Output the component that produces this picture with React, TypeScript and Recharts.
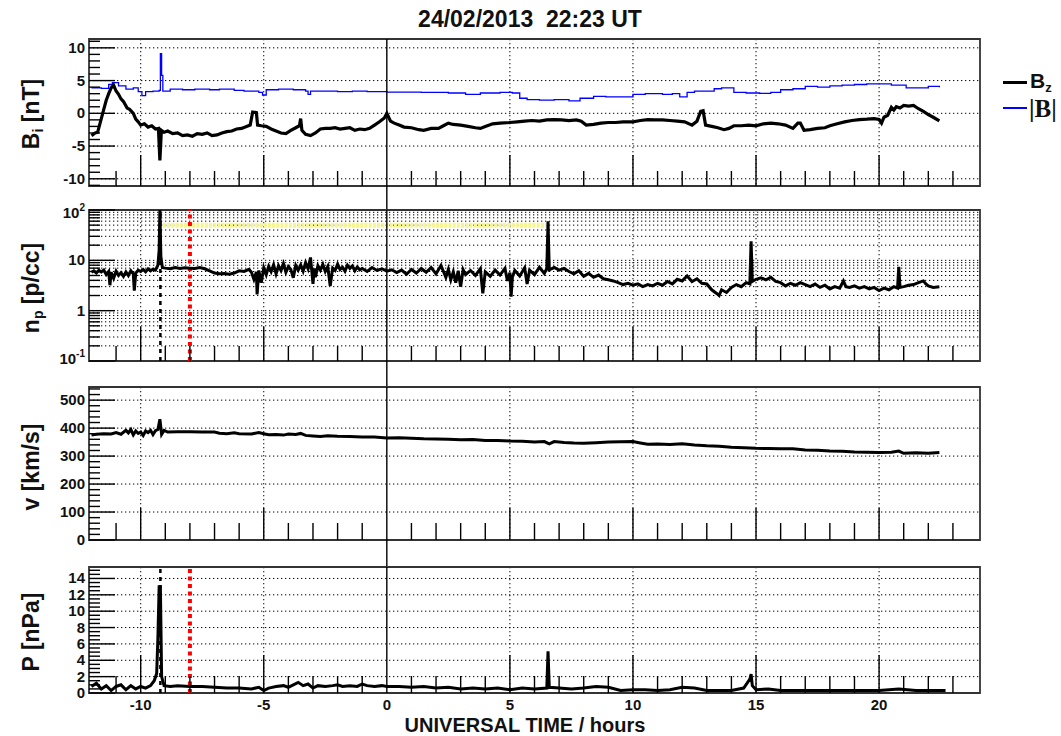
import type { ReactNode } from "react";
import {
  CartesianGrid,
  Line,
  LineChart,
  ReferenceArea,
  ReferenceLine,
  XAxis,
  YAxis,
} from "recharts";

// time axis (hours, UT)
const X_DOMAIN: [number, number] = [-12.1, 24.1];
const X_TICKS = [-11, -10, -9, -8, -7, -6, -5, -4, -3, -2, -1, 0, 1, 2, 3, 4, 5, 6, 7, 8, 9, 10, 11, 12, 13, 14, 15, 16, 17, 18, 19, 20, 21, 22, 23];
const X_GRID = [-10, -5, 5, 10, 15, 20];

// event markers
const SHOCK_T = -9.2;
const RED_T = -8;
const NP_LIMIT = 50;
const NP_LIMIT_T = [-9.1, 6.5];

// B_z [nT]
const BZ_T = [-12, -11.85, -11.75, -11.6, -11.5, -11.4, -11.3, -11.2, -11.1, -11, -10.9, -10.8, -10.7, -10.55, -10.45, -10.3, -10.2, -10.1, -10, -9.85, -9.7, -9.55, -9.4, -9.28, -9.22, -9.16, -9.05, -8.9, -8.7, -8.5, -8.3, -8.1, -7.9, -7.7, -7.5, -7.3, -7.1, -6.9, -6.7, -6.5, -6.3, -6.1, -5.9, -5.7, -5.55, -5.45, -5.3, -5.25, -5.1, -4.9, -4.7, -4.5, -4.3, -4.1, -3.9, -3.7, -3.55, -3.5, -3.45, -3.3, -3.1, -2.9, -2.7, -2.5, -2.3, -2.1, -1.9, -1.7, -1.5, -1.3, -1.1, -0.9, -0.7, -0.5, -0.3, -0.1, 0, 0.15, 0.3, 0.5, 0.7, 1, 1.3, 1.5, 1.8, 2.1, 2.3, 2.5, 2.7, 3, 3.3, 3.6, 3.8, 4, 4.3, 4.6, 5, 5.3, 5.6, 5.9, 6.2, 6.5, 6.8, 7.1, 7.4, 7.7, 7.9, 8.1, 8.4, 8.7, 9, 9.3, 9.6, 10, 10.3, 10.6, 10.9, 11.2, 11.5, 11.8, 12.1, 12.4, 12.6, 12.75, 12.85, 12.95, 13.2, 13.45, 13.7, 13.9, 14.1, 14.4, 14.7, 15, 15.3, 15.6, 15.9, 16.2, 16.5, 16.7, 16.8, 16.95, 17.2, 17.5, 17.8, 18, 18.3, 18.6, 18.9, 19.2, 19.5, 19.8, 20, 20.1, 20.2, 20.35, 20.5, 20.6, 20.7, 20.85, 21, 21.2, 21.4, 21.6, 21.8, 22, 22.2, 22.45];
const BZ_VAL = [-3.4, -3.0, -2.9, -0.8, 0.6, 2.0, 3.0, 3.9, 4.3, 3.4, 2.9, 2.2, 1.8, 0.8, 0.6, 0.0, -0.9, -1.3, -1.8, -1.6, -2.1, -1.9, -2.4, -2.3, -7.2, -2.6, -2.9, -2.7, -3.1, -3.0, -3.4, -3.3, -3.5, -3.1, -3.2, -3.0, -3.4, -3.3, -3.0, -2.8, -2.7, -2.4, -2.3, -2.0, -1.8, 0.2, 0.1, -1.8, -1.9, -2.0, -2.4, -2.7, -3.0, -3.1, -2.6, -2.2, -1.9, -0.8, -2.6, -3.2, -3.4, -3.0, -2.4, -2.3, -2.3, -2.2, -2.4, -2.3, -2.2, -2.6, -2.4, -2.5, -2.3, -1.8, -1.3, -0.7, 0.0, -1.2, -1.5, -1.8, -2.1, -2.2, -2.5, -2.6, -2.3, -2.3, -1.9, -1.5, -1.7, -1.8, -2.0, -2.2, -2.3, -2.0, -1.6, -1.5, -1.4, -1.3, -1.2, -1.1, -1.2, -1.0, -0.95, -1.0, -1.1, -1.0, -1.2, -1.8, -1.7, -1.5, -1.4, -1.4, -1.3, -1.3, -1.1, -0.95, -1.0, -1.0, -1.1, -1.2, -1.3, -1.8, -1.2, 0.3, 0.4, -1.8, -2.0, -2.2, -2.5, -2.3, -1.9, -1.9, -1.8, -1.9, -1.6, -1.5, -1.6, -1.8, -2.3, -1.5, -1.5, -2.6, -2.5, -2.3, -2.2, -1.9, -1.6, -1.3, -1.1, -0.95, -0.9, -0.8, -0.95, -1.5, -0.6, -0.3, 0.9, 0.5, 1.0, 0.8, 1.2, 1.1, 1.2, 0.7, 0.3, -0.2, -0.6, -1.15];

// |B| [nT]
const BT_T = [-12, -11.6, -11.3, -11.15, -10.9, -10.6, -10.3, -10.1, -9.95, -9.8, -9.5, -9.25, -9.2, -9.15, -9.1, -8.8, -8.3, -7.8, -7.2, -6.8, -6.2, -5.8, -5.2, -5.05, -4.9, -4.4, -3.8, -3.3, -3.2, -3.1, -2.6, -2, -1.4, -0.8, 0, 1.4, 2.5, 3.2, 3.8, 4.6, 5.1, 5.4, 5.7, 6.2, 6.8, 7.4, 7.85, 8.4, 8.9, 9.3, 10, 10.5, 11.2, 11.6, 11.9, 12.2, 12.5, 13.3, 13.6, 14.1, 14.6, 15.15, 15.6, 16, 16.5, 17, 17.5, 18, 18.5, 19, 19.5, 20, 20.5, 21.1, 21.6, 22, 22.45];
const BT_VAL = [3.9, 3.8, 4.4, 4.7, 4.2, 3.7, 3.9, 3.3, 2.7, 3.3, 3.4, 3.5, 9.1, 5.8, 3.4, 3.7, 3.6, 3.7, 3.6, 3.7, 3.5, 3.4, 3.2, 2.8, 3.6, 3.7, 3.6, 3.4, 2.9, 3.4, 3.4, 3.3, 3.4, 3.3, 3.25, 3.2, 3.1, 2.9, 3.1, 3.2, 3.1, 2.3, 2.1, 2.0, 2.1, 1.9, 2.3, 2.6, 2.5, 2.5, 2.9, 3.0, 2.9, 3.0, 2.5, 3.2, 3.4, 3.75, 3.9, 3.2, 3.1, 3.05, 3.2, 3.6, 3.75, 4.1, 4.0, 4.2, 4.3, 4.4, 4.5, 4.5, 4.3, 3.9, 3.9, 4.1, 4.0];

// n_p [p/cc]
const NP_T = [-12, -11.9, -11.8, -11.7, -11.6, -11.5, -11.4, -11.3, -11.25, -11.2, -11.1, -11, -10.9, -10.8, -10.7, -10.6, -10.5, -10.4, -10.3, -10.26, -10.2, -10.1, -10, -9.9, -9.8, -9.7, -9.6, -9.5, -9.4, -9.3, -9.25, -9.22, -9.18, -9.12, -9, -8.8, -8.6, -8.4, -8.2, -8, -7.8, -7.6, -7.4, -7.2, -7, -6.8, -6.6, -6.4, -6.2, -6, -5.8, -5.6, -5.5, -5.4, -5.3, -5.27, -5.2, -5.1, -5, -4.9, -4.8, -4.7, -4.6, -4.5, -4.4, -4.3, -4.2, -4.1, -4, -3.9, -3.8, -3.7, -3.6, -3.5, -3.4, -3.3, -3.2, -3.1, -3, -2.95, -2.9, -2.8, -2.7, -2.6, -2.5, -2.4, -2.3, -2.2, -2.1, -2, -1.9, -1.8, -1.7, -1.6, -1.5, -1.4, -1.3, -1.2, -1.1, -1, -0.8, -0.6, -0.4, -0.2, 0, 0.2, 0.4, 0.6, 0.8, 1, 1.2, 1.4, 1.6, 1.8, 2, 2.2, 2.4, 2.5, 2.6, 2.7, 2.8, 2.9, 3, 3.1, 3.2, 3.4, 3.6, 3.8, 3.9, 4, 4.2, 4.4, 4.6, 4.8, 4.9, 5, 5.05, 5.1, 5.2, 5.4, 5.6, 5.7, 5.8, 6, 6.2, 6.4, 6.5, 6.55, 6.6, 6.8, 7, 7.2, 7.4, 7.6, 7.8, 8, 8.2, 8.4, 8.6, 8.8, 9, 9.2, 9.4, 9.6, 9.8, 10, 10.2, 10.4, 10.6, 10.8, 11, 11.2, 11.4, 11.6, 11.8, 12, 12.2, 12.4, 12.6, 12.8, 13, 13.2, 13.4, 13.5, 13.6, 13.8, 14, 14.2, 14.4, 14.6, 14.75, 14.8, 14.85, 15, 15.2, 15.4, 15.6, 15.8, 16, 16.2, 16.4, 16.6, 16.8, 17, 17.2, 17.4, 17.6, 17.8, 18, 18.2, 18.4, 18.55, 18.65, 18.8, 19, 19.2, 19.4, 19.6, 19.8, 20, 20.2, 20.4, 20.6, 20.75, 20.8, 20.85, 21, 21.2, 21.4, 21.6, 21.8, 21.9, 22, 22.2, 22.45];
const NP_VAL = [5.8, 6.2, 5.6, 6.3, 5.9, 6.4, 5.2, 6.0, 3.2, 5.8, 4.4, 6.1, 5.0, 5.7, 4.8, 5.9, 5.0, 6.2, 5.4, 2.5, 5.6, 6.4, 6.0, 6.6, 5.9, 6.8, 6.2, 6.7, 6.4, 8.0, 16, 100, 12, 7.2, 7.0, 6.8, 7.2, 6.9, 7.1, 7.0, 6.9, 7.2, 6.8, 6.2, 5.6, 5.4, 5.5, 5.3, 5.6, 6.2, 6.0, 6.6, 5.8, 4.2, 5.9, 2.1, 6.3, 3.6, 7.1, 5.2, 7.6, 6.0, 8.2, 5.4, 7.8, 6.3, 8.6, 5.8, 7.5, 6.6, 4.5, 7.9, 6.4, 8.1, 6.1, 9.0, 6.8, 11.4, 3.4, 6.9, 4.6, 7.8, 6.4, 8.3, 6.0, 7.5, 3.1, 7.0, 6.3, 8.4, 6.6, 7.3, 6.1, 8.0, 6.9, 7.7, 6.2, 7.4, 6.5, 6.9, 6.0, 7.2, 6.3, 6.8, 6.1, 6.5, 5.7, 6.4, 5.3, 6.6, 5.6, 6.9, 5.8, 7.2, 5.4, 7.9, 4.6, 6.6, 4.1, 5.9, 3.6, 6.2, 3.0, 6.5, 5.2, 6.3, 5.0, 6.8, 2.2, 5.9, 4.8, 6.4, 5.1, 6.9, 3.9, 5.7, 1.9, 4.6, 6.3, 4.9, 7.1, 3.4, 6.4, 5.2, 7.3, 5.5, 6.9, 60, 6.5, 7.2, 6.4, 6.9, 6.0, 5.4, 6.2, 4.8, 5.5, 4.6, 5.1, 4.3, 4.1, 3.9, 3.6, 3.3, 3.5, 3.2, 3.4, 3.0, 3.3, 3.1, 3.5, 3.2, 3.8, 3.4, 4.2, 3.9, 4.9, 3.8, 4.3, 3.5, 3.4, 2.6, 2.2, 2.0, 2.6, 2.3, 2.9, 3.3, 3.0, 3.6, 3.4, 24, 3.8, 4.2, 4.5, 4.1, 4.6, 3.8, 3.6, 3.1, 3.5, 3.2, 3.6, 3.3, 3.0, 3.4, 2.9, 3.2, 2.7, 3.0, 2.8, 3.9, 3.0, 2.9, 3.1, 2.8, 3.0, 2.7, 2.9, 2.5, 2.8, 2.6, 3.0, 2.8, 7.4, 2.9, 3.0, 3.2, 3.3, 3.6, 3.9, 3.4, 3.1, 2.9, 3.0];

// v [km/s]
const V_T = [-12, -11.8, -11.5, -11.2, -11, -10.8, -10.6, -10.5, -10.4, -10.3, -10.2, -10.1, -10, -9.9, -9.8, -9.7, -9.6, -9.5, -9.4, -9.3, -9.22, -9.15, -9.05, -8.9, -8.5, -8, -7.5, -7, -6.8, -6.5, -6.2, -6, -5.5, -5.2, -5, -4.8, -4.5, -4.2, -4, -3.7, -3.5, -3.3, -3, -2.7, -2.4, -2, -1.5, -1, -0.5, 0, 0.5, 1, 1.5, 2, 2.5, 3, 3.5, 4, 4.5, 5, 5.5, 6, 6.4, 6.6, 6.8, 7.2, 7.6, 8, 8.5, 9, 9.5, 10, 10.3, 10.6, 11, 11.5, 12, 12.5, 13, 13.5, 14, 14.5, 15, 15.5, 16, 16.5, 17, 17.5, 18, 18.5, 19, 19.5, 20, 20.5, 20.8, 21, 21.5, 22, 22.45];
const V_VAL = [375, 378, 380, 379, 384, 378, 392, 383, 395, 376, 390, 381, 386, 374, 390, 384, 392, 377, 391, 395, 432, 378, 392, 386, 387, 387, 386, 386, 382, 380, 383, 380, 379, 384, 380, 376, 377, 375, 379, 377, 381, 374, 372, 370, 373, 371, 370, 368, 368, 365, 366, 364, 362, 361, 360, 358, 359, 356, 356, 354, 353, 350, 352, 344, 352, 349, 347, 346, 348, 350, 351, 352, 347, 342, 343, 341, 344, 340, 337, 335, 332, 330, 328, 327, 326, 326, 322, 321, 318, 317, 315, 314, 313, 314, 318, 310, 312, 310, 313];

// P [nPa]
const P_T = [-12, -11.8, -11.6, -11.4, -11.2, -11, -10.8, -10.6, -10.4, -10.2, -10, -9.8, -9.6, -9.45, -9.35, -9.3, -9.25, -9.2, -9.15, -9.05, -8.8, -8.5, -8, -7.5, -7, -6.5, -6, -5.5, -5.2, -5, -4.8, -4.5, -4.2, -4, -3.8, -3.6, -3.4, -3.2, -3, -2.8, -2.5, -2.2, -2, -1.8, -1.5, -1.2, -1, -0.8, -0.5, -0.2, 0, 0.5, 1, 1.5, 2, 2.5, 3, 3.5, 4, 4.5, 5, 5.5, 6, 6.5, 6.55, 6.6, 7, 7.5, 8, 8.5, 9, 9.5, 10, 10.5, 11, 11.5, 12, 12.5, 13, 13.5, 14, 14.5, 14.75, 14.8, 14.85, 15, 15.5, 16, 17, 18, 19, 20, 20.8, 21.5, 22, 22.7];
const P_VAL = [0.8, 1.2, 0.5, 0.9, 0.3, 0.8, 1.0, 0.4, 0.9, 0.5, 0.8, 0.6, 0.9, 1.5, 2.4, 6.8, 13.0, 13.0, 2.0, 0.9, 0.8, 0.9, 0.8, 0.8, 0.7, 0.6, 0.6, 0.5, 0.7, 0.3, 0.6, 0.8, 0.9, 0.7, 1.0, 1.3, 0.9, 1.1, 0.6, 0.9, 0.8, 0.9, 1.0, 0.8, 0.9, 0.8, 1.1, 0.9, 0.8, 0.9, 0.8, 0.8, 0.7, 0.8, 0.6, 0.7, 0.5, 0.6, 0.5, 0.6, 0.4, 0.6, 0.5, 0.6, 5.1, 0.7, 0.6, 0.5, 0.6, 0.8, 0.7, 0.3, 0.4, 0.4, 0.3, 0.4, 0.7, 0.6, 0.3, 0.3, 0.3, 0.6, 1.7, 2.3, 0.9, 0.4, 0.5, 0.3, 0.3, 0.3, 0.3, 0.3, 0.5, 0.3, 0.3, 0.3];

// y axes
const B_DOMAIN: [number, number] = [-11.1, 11.35];
const B_TICKS = [-11, -10, -9, -8, -7, -6, -5, -4, -3, -2, -1, 0, 1, 2, 3, 4, 5, 6, 7, 8, 9, 10, 11];
const B_GRID = [-10, -5, 0, 5, 10];
const NP_DOMAIN: [number, number] = [0.1, 100];
const NP_TICKS = [0.1, 0.2, 0.3, 0.4, 0.5, 0.6, 0.7, 0.8, 0.9, 1, 2, 3, 4, 5, 6, 7, 8, 9, 10, 20, 30, 40, 50, 60, 70, 80, 90, 100];
const NP_GRID = [0.2, 0.3, 0.4, 0.5, 0.6, 0.7, 0.8, 0.9, 1, 2, 3, 4, 5, 6, 7, 8, 9, 10, 20, 30, 40, 50, 60, 70, 80, 90];
const V_DOMAIN: [number, number] = [0, 547];
const V_TICKS = [0, 20, 40, 60, 80, 100, 120, 140, 160, 180, 200, 220, 240, 260, 280, 300, 320, 340, 360, 380, 400, 420, 440, 460, 480, 500, 520, 540];
const V_GRID = [100, 200, 300, 400, 500];
const P_DOMAIN: [number, number] = [0, 15.4];
const P_TICKS = [0, 0.5, 1, 1.5, 2, 2.5, 3, 3.5, 4, 4.5, 5, 5.5, 6, 6.5, 7, 7.5, 8, 8.5, 9, 9.5, 10, 10.5, 11, 11.5, 12, 12.5, 13, 13.5, 14, 14.5, 15];
const P_GRID = [2, 4, 6, 8, 10, 12, 14];

const FONT = '"Liberation Sans", Arial, Helvetica, sans-serif';
const W = 1061;
const MT = 14;

const PANELS = [
  { top: 39, bottom: 186, next: 210, xMajor: 31, xMinor: 15, last: false },
  { top: 210, bottom: 361, next: 387, xMajor: 34, xMinor: 15, last: false },
  { top: 387, bottom: 540, next: 567, xMajor: 32, xMinor: 17, last: false },
  { top: 567, bottom: 693, next: 736, xMajor: 38, xMinor: 17, last: true },
];

function rows(ts: number[], vs: number[]) {
  return ts.map((t, i) => ({ t, v: vs[i] }));
}

function XTick(props: any) {
  const { x, y, payload, plotH, zeroBelow, majorLen, minorLen, showLabel } = props;
  const v = payload.value;
  const major = v % 5 === 0;
  return (
    <g>
      {v === 0 ? (
        <line x1={x} x2={x} y1={y - plotH} y2={y + zeroBelow} stroke="#000" strokeWidth={1.4} />
      ) : (
        <line x1={x} x2={x} y1={y} y2={y - (major ? majorLen : minorLen)} stroke="#000" strokeWidth={1.4} />
      )}
      {showLabel && major && (
        <text x={x} y={y + 17} textAnchor="middle" fontFamily={FONT} fontWeight="bold" fontSize={15} fill="#111">
          {v}
        </text>
      )}
    </g>
  );
}

function YTick(props: any) {
  const { x, y, payload, isMajor, label } = props;
  const v = payload.value;
  const major = isMajor(v);
  return (
    <g>
      <line x1={x} x2={x + (major ? 26 : 11)} y1={y} y2={y} stroke="#000" strokeWidth={1.4} />
      {label(v, x - 4, y + 5)}
    </g>
  );
}

function plainLabel(show: (v: number) => boolean) {
  return (v: number, x: number, y: number) =>
    show(v) ? (
      <text x={x} y={y} textAnchor="end" fontFamily={FONT} fontWeight="bold" fontSize={15} fill="#111">
        {v}
      </text>
    ) : null;
}

function logLabel(v: number, x: number, y: number) {
  const style = { fontFamily: FONT, fontWeight: "bold", fill: "#111" } as const;
  if (v === 100)
    return (
      <text x={x} y={y + 3} textAnchor="end" fontSize={15} {...style}>
        10<tspan dy={-7} fontSize={10}>2</tspan>
      </text>
    );
  if (v === 0.1)
    return (
      <text x={x} y={y - 2} textAnchor="end" fontSize={15} {...style}>
        10<tspan dy={-7} fontSize={10}>-1</tspan>
      </text>
    );
  if (v === 10 || v === 1)
    return (
      <text x={x} y={y} textAnchor="end" fontSize={15} {...style}>
        {v}
      </text>
    );
  return null;
}

type PanelCfg = {
  index: number;
  domain: [number, number];
  ticks: number[];
  grid: number[];
  scale?: "log" | "linear";
  isMajor: (v: number) => boolean;
  label: (v: number, x: number, y: number) => ReactNode;
  series: ReactNode[];
};

function renderPanel(cfg: PanelCfg) {
  const p = PANELS[cfg.index];
  const plotH = p.bottom - p.top;
  const below = p.next - p.bottom;
  return (
    <div style={{ position: "absolute", left: 0, top: p.top - MT }}>
      <LineChart width={W} height={MT + plotH + below} margin={{ top: MT, right: 81, bottom: 0, left: 29 }}>
        <CartesianGrid
          stroke="#000"
          strokeDasharray="1.3 2.7"
          horizontalValues={cfg.grid}
          verticalValues={X_GRID}
        />
        <XAxis
          type="number"
          dataKey="t"
          domain={X_DOMAIN}
          allowDataOverflow
          ticks={X_TICKS}
          interval={0}
          height={below}
          axisLine={false}
          tickLine={false}
          tickSize={0}
          tickMargin={0}
          tick={(tp: any) => (
            <XTick
              {...tp}
              plotH={plotH}
              zeroBelow={p.last ? 0 : below}
              majorLen={p.xMajor}
              minorLen={p.xMinor}
              showLabel={p.last}
            />
          )}
        />
        <YAxis
          type="number"
          scale={cfg.scale ?? "linear"}
          domain={cfg.domain}
          allowDataOverflow
          ticks={cfg.ticks}
          interval={0}
          width={60}
          axisLine={false}
          tickLine={false}
          tickSize={0}
          tickMargin={0}
          tick={(tp: any) => <YTick {...tp} isMajor={cfg.isMajor} label={cfg.label} />}
        />
        <ReferenceArea
          x1={X_DOMAIN[0]}
          x2={X_DOMAIN[1]}
          y1={cfg.domain[0]}
          y2={cfg.domain[1]}
          fill="none"
          stroke="#333"
          strokeWidth={1.8}
          ifOverflow="visible"
        />
        {cfg.series}
      </LineChart>
    </div>
  );
}

export default function App() {
  const bz = rows(BZ_T, BZ_VAL);
  const bt = rows(BT_T, BT_VAL);
  const np = rows(NP_T, NP_VAL);
  const npLimit = rows(NP_LIMIT_T, NP_LIMIT_T.map(() => NP_LIMIT));
  const v = rows(V_T, V_VAL);
  const pr = rows(P_T, P_VAL);

  const labelText = { fontFamily: FONT, fontWeight: "bold" as const, color: "#111", whiteSpace: "nowrap" as const, lineHeight: 1 };
  const sub = (s: string, size: number, drop: number) => (
    <span style={{ fontSize: size, position: "relative", top: drop }}>{s}</span>
  );
  const yLabel = (cy: number, content: ReactNode) => (
    <div
      style={{
        ...labelText,
        position: "absolute",
        left: 31,
        top: cy,
        fontSize: 23,
        transform: "translate(-50%, -50%) rotate(-90deg)",
      }}
    >
      {content}
    </div>
  );

  return (
    <div style={{ position: "absolute", left: 0, top: 0, width: W, height: 736, background: "#fff", overflow: "hidden" }}>
      <div style={{ ...labelText, position: "absolute", left: 530, top: 8, fontSize: 23, transform: "translateX(-50%)", whiteSpace: "pre" }}>
        {"24/02/2013  22:23 UT"}
      </div>

      {renderPanel({
        index: 0,
        domain: B_DOMAIN,
        ticks: B_TICKS,
        grid: B_GRID,
        isMajor: (t) => t % 5 === 0,
        label: plainLabel((t) => t % 5 === 0),
        series: [
          <Line key="bt" data={bt} dataKey="v" type="stepAfter" stroke="#0000ff" strokeWidth={1.3} dot={false} isAnimationActive={false} />,
          <Line key="bz" data={bz} dataKey="v" type="linear" stroke="#000" strokeWidth={3.2} strokeLinejoin="miter" dot={false} isAnimationActive={false} />,
        ],
      })}

      {renderPanel({
        index: 1,
        domain: NP_DOMAIN,
        ticks: NP_TICKS,
        grid: NP_GRID,
        scale: "log",
        isMajor: (t) => t === 0.1 || t === 1 || t === 10 || t === 100,
        label: logLabel,
        series: [
          <Line key="lim" data={npLimit} dataKey="v" stroke="#f6f68a" strokeWidth={5} strokeDasharray="3 1.2" dot={false} isAnimationActive={false} />,
          <ReferenceLine key="shock" x={SHOCK_T} stroke="#000" strokeWidth={2.5} strokeDasharray="4 4" />,
          <ReferenceLine key="red" x={RED_T} stroke="#ff0000" strokeWidth={4} strokeDasharray="4 3.5" />,
          <Line key="np" data={np} dataKey="v" stroke="#000" strokeWidth={3} dot={false} isAnimationActive={false} />,
        ],
      })}

      {renderPanel({
        index: 2,
        domain: V_DOMAIN,
        ticks: V_TICKS,
        grid: V_GRID,
        isMajor: (t) => t % 100 === 0,
        label: plainLabel((t) => t % 100 === 0),
        series: [
          <Line key="v" data={v} dataKey="v" stroke="#000" strokeWidth={3} dot={false} isAnimationActive={false} />,
        ],
      })}

      {renderPanel({
        index: 3,
        domain: P_DOMAIN,
        ticks: P_TICKS,
        grid: P_GRID,
        isMajor: (t) => t % 2 === 0,
        label: plainLabel((t) => t % 2 === 0),
        series: [
          <ReferenceLine key="shock" x={SHOCK_T} stroke="#000" strokeWidth={2.5} strokeDasharray="4 4" />,
          <ReferenceLine key="red" x={RED_T} stroke="#ff0000" strokeWidth={4} strokeDasharray="4 3.5" />,
          <Line key="p" data={pr} dataKey="v" stroke="#000" strokeWidth={3} dot={false} isAnimationActive={false} />,
        ],
      })}

      {yLabel(114, <>B{sub("i", 14, 4)} [nT]</>)}
      {yLabel(288, <>n{sub("p", 14, 4)} [p/cc]</>)}
      {yLabel(467, <>v [km/s]</>)}
      {yLabel(632, <>P [nPa]</>)}

      <div style={{ ...labelText, position: "absolute", left: 525, top: 715, fontSize: 20, transform: "translateX(-50%)" }}>
        UNIVERSAL TIME / hours
      </div>

      <div style={{ position: "absolute", left: 1003, top: 81, width: 24, height: 3, background: "#000" }} />
      <div style={{ ...labelText, position: "absolute", left: 1030, top: 70, fontSize: 21 }}>
        B{sub("z", 13, 4)}
      </div>
      <div style={{ position: "absolute", left: 1003, top: 107, width: 24, height: 1.5, background: "#0000ff" }} />
      <div style={{ ...labelText, position: "absolute", left: 1029, top: 96, fontSize: 25, fontFamily: '"Liberation Serif", "Times New Roman", serif' }}>
        |B|
      </div>
    </div>
  );
}
